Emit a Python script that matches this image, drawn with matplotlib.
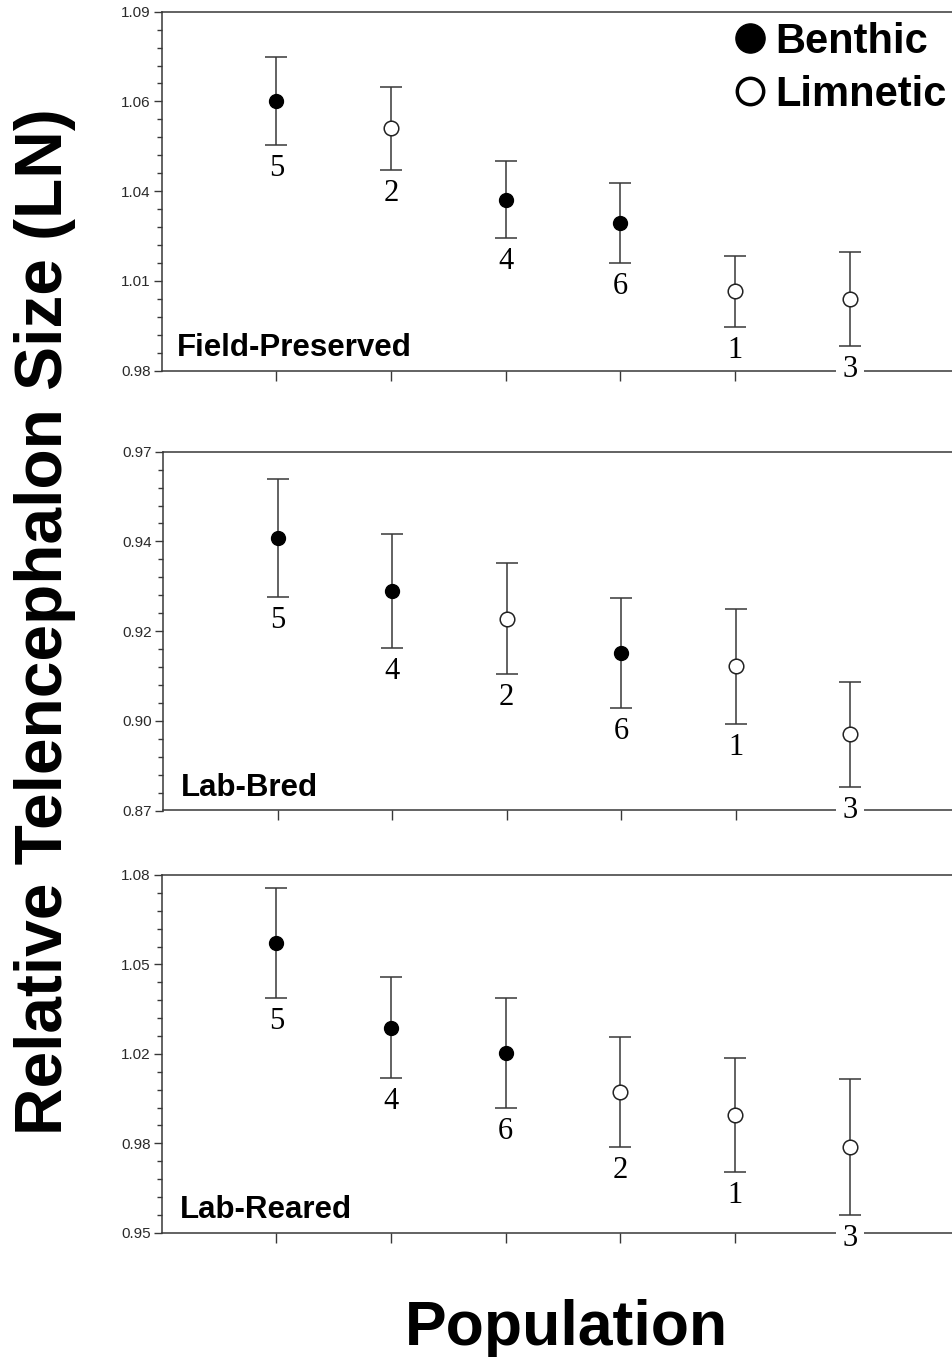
import matplotlib
matplotlib.use("Agg")
import matplotlib.pyplot as plt
from matplotlib.lines import Line2D
from matplotlib.ticker import FixedLocator, FixedFormatter
import numpy as np

# ---- data -------------------------------------------------------------
benthic_pops = ["4", "5", "6"]

field_pops = ["5", "2", "4", "6", "1", "3"]
field_mean = [1.0626, 1.0542, 1.0324, 1.0252, 1.0043, 1.0020]
field_se = [0.0136, 0.0126, 0.0117, 0.0123, 0.0109, 0.0144]
field_lim = (0.98, 1.09)
field_ticklabels = ["0.98", "1.01", "1.04", "1.06", "1.09"]

bred_pops = ["5", "4", "2", "6", "1", "3"]
bred_mean = [0.9460, 0.9312, 0.9235, 0.9139, 0.9102, 0.8912]
bred_se = [0.0165, 0.0159, 0.0155, 0.0154, 0.0160, 0.0147]
bred_lim = (0.87, 0.97)
bred_ticklabels = ["0.87", "0.90", "0.92", "0.94", "0.97"]

reared_pops = ["5", "4", "6", "2", "1", "3"]
reared_mean = [1.0552, 1.0245, 1.0154, 1.0010, 0.9928, 0.9813]
reared_se = [0.0200, 0.0183, 0.0199, 0.0200, 0.0208, 0.0247]
reared_lim = (0.95, 1.08)
reared_ticklabels = ["0.95", "0.98", "1.02", "1.05", "1.08"]

panel_titles = ["Field-Preserved", "Lab-Bred", "Lab-Reared"]

# ---- figure -----------------------------------------------------------
W, H = 953, 1357
fig = plt.figure(figsize=(W / 100, H / 100), dpi=100)
fig.patch.set_facecolor("white")

SANS = "Liberation Sans"
SERIF = "Liberation Serif"
LINE = "#383838"

LABEL_GAP = 9      # px between lower cap and population number
LABEL_H = 30       # approx. px height of a population number


def rect(left, top, right, bottom):
    return [left / W, 1 - bottom / H, (right - left) / W, (bottom - top) / H]


panels = [
    dict(pops=field_pops, mean=field_mean, se=field_se, lim=field_lim,
         labels=field_ticklabels, title=panel_titles[0],
         box=(161.7, 11.7, 953, 370.5), title_off=(15, 14)),
    dict(pops=bred_pops, mean=bred_mean, se=bred_se, lim=bred_lim,
         labels=bred_ticklabels, title=panel_titles[1],
         box=(163.3, 451.7, 953, 810.5), title_off=(18, 14)),
    dict(pops=reared_pops, mean=reared_mean, se=reared_se, lim=reared_lim,
         labels=reared_ticklabels, title=panel_titles[2],
         box=(161.7, 875.0, 953, 1232.7), title_off=(18, 15)),
]

axes = []
for p in panels:
    ax = fig.add_axes(rect(*p["box"]))
    axes.append(ax)
    x = np.arange(1, len(p["pops"]) + 1)
    mean = np.array(p["mean"])
    se = np.array(p["se"])
    lo, hi = p["lim"]
    ax_h_px = p["box"][3] - p["box"][1]

    ax.errorbar(x, mean, yerr=se, fmt="none", ecolor=LINE, elinewidth=1.1,
                capsize=8, capthick=1.1, zorder=2)
    is_b = np.array([pop in benthic_pops for pop in p["pops"]])
    ax.plot(x[is_b], mean[is_b], "o", ls="none", ms=10, mfc="black",
            mec="black", mew=1.0, zorder=4)
    ax.plot(x[~is_b], mean[~is_b], "o", ls="none", ms=10.5, mfc="white",
            mec="#222222", mew=1.1, zorder=4)

    # population numbers under each lower cap; numbers that reach the
    # x axis get a white backing so the axis line breaks around them
    for xi, m, s, pop in zip(x, mean, se, p["pops"]):
        bottom_val = m - s - (LABEL_GAP + LABEL_H) / ax_h_px * (hi - lo)
        box = (dict(boxstyle="square,pad=0.2", fc="white", ec="none")
               if bottom_val < lo else None)
        ax.annotate(pop, xy=(xi, m - s), xytext=(0, -LABEL_GAP),
                    textcoords="offset pixels", ha="center", va="top",
                    fontsize=22, family=SERIF, color="black",
                    annotation_clip=False, clip_on=False, zorder=5,
                    bbox=box)

    ax.set_xlim(0, 6.9)
    ax.set_ylim(lo, hi)
    ax.yaxis.set_major_locator(FixedLocator(np.linspace(lo, hi, 5)))
    ax.yaxis.set_major_formatter(FixedFormatter(p["labels"]))
    ax.yaxis.set_minor_locator(FixedLocator(np.linspace(lo, hi, 21)))
    ax.set_xticks(x)
    ax.set_xticklabels([])

    for side in ("left", "bottom", "top"):
        ax.spines[side].set_color(LINE)
        ax.spines[side].set_linewidth(1.1)
    ax.spines["right"].set_visible(False)

    ax.tick_params(axis="y", which="major", direction="out", length=6,
                   width=1.0, color=LINE, pad=2, labelsize=11,
                   labelcolor="#2a2a2a")
    ax.tick_params(axis="y", which="minor", direction="out", length=3.5,
                   width=1.0, color=LINE)
    ax.tick_params(axis="x", which="major", direction="out", length=7,
                   width=1.0, color=LINE)
    for lab in ax.get_yticklabels():
        lab.set_family(SANS)

    ax.annotate(p["title"], xy=(0, 0), xycoords="axes fraction",
                xytext=p["title_off"], textcoords="offset pixels",
                ha="left", va="baseline", fontsize=22.5, weight="bold",
                family=SANS, color="black")

# legend in the top panel
handles = [
    Line2D([], [], marker="o", ls="none", ms=21, mfc="black", mec="black"),
    Line2D([], [], marker="o", ls="none", ms=19, mfc="white", mec="black",
           mew=2.5),
]
leg = axes[0].legend(handles, ["Benthic", "Limnetic"], loc="upper left",
                     bbox_to_anchor=(733 / W, 1 - 22 / H),
                     bbox_transform=fig.transFigure, frameon=False,
                     borderpad=0, borderaxespad=0, handlelength=0.8,
                     handletextpad=0.22, labelspacing=0.3,
                     prop=dict(family=SANS, weight="bold", size=30))

fig.text(45 / W, 1 - 622 / H, "Relative Telencephalon Size (LN)",
         rotation=90, ha="center", va="center", fontsize=47.4,
         weight="bold", family=SANS)
fig.text(566 / W, 1 - 1345 / H, "Population", ha="center", va="baseline",
         fontsize=45, weight="bold", family=SANS)

fig.savefig("out.png", dpi=100, facecolor="white")
